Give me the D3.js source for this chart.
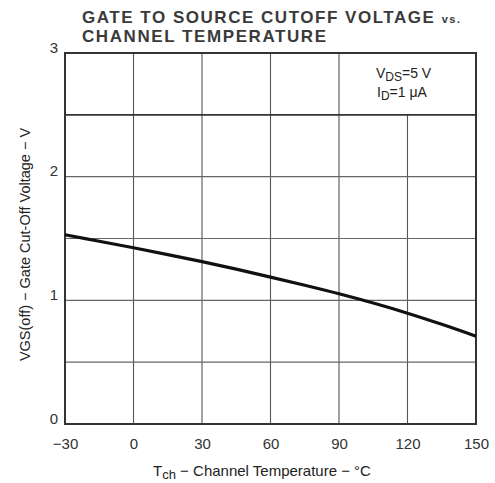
<!DOCTYPE html>
<html>
<head>
<meta charset="utf-8">
<script src="https://cdn.jsdelivr.net/npm/d3@7"></script>
<style>
  body { margin: 0; background: #fff; }
  svg text { font-family: "Liberation Sans", Arial, sans-serif; fill: #222; }
</style>
</head>
<body>
<div id="chart"></div>
<script>
// channel temperature (°C) vs. VGS(off) (V)
const temps = [-30, -15, 0, 15, 30, 45, 60, 75, 90, 105, 120, 135, 150];
const vgsOff = [1.53, 1.478, 1.425, 1.37, 1.313, 1.252, 1.188, 1.122, 1.053, 0.978, 0.896, 0.806, 0.71];
const xTicks = [-30, 0, 30, 60, 90, 120, 150];
const yTicks = [0, 1, 2, 3];
const yGrid = [0.5, 1, 1.5, 2, 2.5];

const width = 495, height = 483;
const margin = { top: 53, right: 19, bottom: 59, left: 65 };

const svg = d3.select('#chart').append('svg')
    .attr('width', width)
    .attr('height', height);

const x = d3.scaleLinear().domain([-30, 150]).range([margin.left, width - margin.right]);
const y = d3.scaleLinear().domain([0, 3]).range([height - margin.bottom, margin.top]);

// grid
const grid = svg.append('g').attr('class', 'grid');
grid.selectAll('line.v')
    .data(xTicks.slice(1, -1))
    .enter().append('line')
    .attr('x1', d => x(d)).attr('x2', d => x(d))
    .attr('y1', y(0))
    .attr('y2', d => d === 120 ? y(2.5) : y(3)) // legend cell has no divider
    .attr('stroke', '#555')
    .attr('stroke-width', 1.1);
grid.selectAll('line.h')
    .data(yGrid)
    .enter().append('line')
    .attr('x1', x(-30)).attr('x2', x(150))
    .attr('y1', d => y(d)).attr('y2', d => y(d))
    .attr('stroke', d => d === 2.5 ? '#333' : '#666')
    .attr('stroke-width', d => d === 2.5 ? 1.8 : 1.1);

// frame
svg.append('rect')
    .attr('x', x(-30)).attr('y', y(3))
    .attr('width', x(150) - x(-30))
    .attr('height', y(0) - y(3))
    .attr('fill', 'none')
    .attr('stroke', '#333')
    .attr('stroke-width', 2);

// axes (labels only, the frame draws the lines)
const xAxis = svg.append('g')
    .attr('transform', `translate(0,${y(0)})`)
    .call(d3.axisBottom(x).tickValues(xTicks).tickSize(0).tickPadding(14)
        .tickFormat(d => d < 0 ? '\u2212' + Math.abs(d) : d));
xAxis.select('.domain').remove();
xAxis.selectAll('text').style('font-size', '15px').style('fill', '#333');

const yAxis = svg.append('g')
    .attr('transform', `translate(${x(-30)},0)`)
    .call(d3.axisLeft(y).tickValues(yTicks).tickSize(0).tickPadding(7).tickFormat(d3.format('d')));
yAxis.select('.domain').remove();
yAxis.selectAll('text').style('font-size', '15px').style('fill', '#333').attr('dy', '-0.05em');

// curve
const line = d3.line()
    .x((d, i) => x(temps[i]))
    .y(d => y(d))
    .curve(d3.curveCatmullRom);
svg.append('path')
    .datum(vgsOff)
    .attr('d', line)
    .attr('fill', 'none')
    .attr('stroke', '#111')
    .attr('stroke-width', 3.2);

// title
const title = svg.append('g');
title.append('text')
    .attr('x', 82).attr('y', 23)
    .attr('textLength', 378).attr('lengthAdjust', 'spacing')
    .style('font-size', '17px').style('font-weight', 'bold').style('fill', '#3a3a3a')
    .html('GATE TO SOURCE CUTOFF VOLTAGE <tspan style="font-size:11px">vs.</tspan>');
title.append('text')
    .attr('x', 82).attr('y', 42)
    .attr('textLength', 244).attr('lengthAdjust', 'spacing')
    .style('font-size', '17px').style('font-weight', 'bold').style('fill', '#3a3a3a')
    .text('CHANNEL TEMPERATURE');

// conditions
const cond = svg.append('g').style('font-size', '14px');
cond.append('text').attr('x', 376).attr('y', 78)
    .html('V<tspan dy="3" style="font-size:12px">DS</tspan><tspan dy="-3">=5 V</tspan>');
cond.append('text').attr('x', 377).attr('y', 97)
    .html('I<tspan dy="3" style="font-size:12px">D</tspan><tspan dy="-3">=1 \u03bcA</tspan>');

// axis titles
svg.append('text')
    .attr('x', 262).attr('y', 476)
    .attr('text-anchor', 'middle')
    .style('font-size', '15px')
    .html('T<tspan dy="3" style="font-size:13px">ch</tspan><tspan dy="-3"> \u2212 Channel Temperature \u2212 \u00b0C</tspan>');

svg.append('text')
    .attr('transform', `translate(30,${(y(0) + y(3)) / 2 + 6}) rotate(-90)`)
    .attr('text-anchor', 'middle')
    .style('font-size', '14.5px')
    .text('VGS(off) \u2212 Gate Cut-Off Voltage \u2212 V');
</script>
</body>
</html>
